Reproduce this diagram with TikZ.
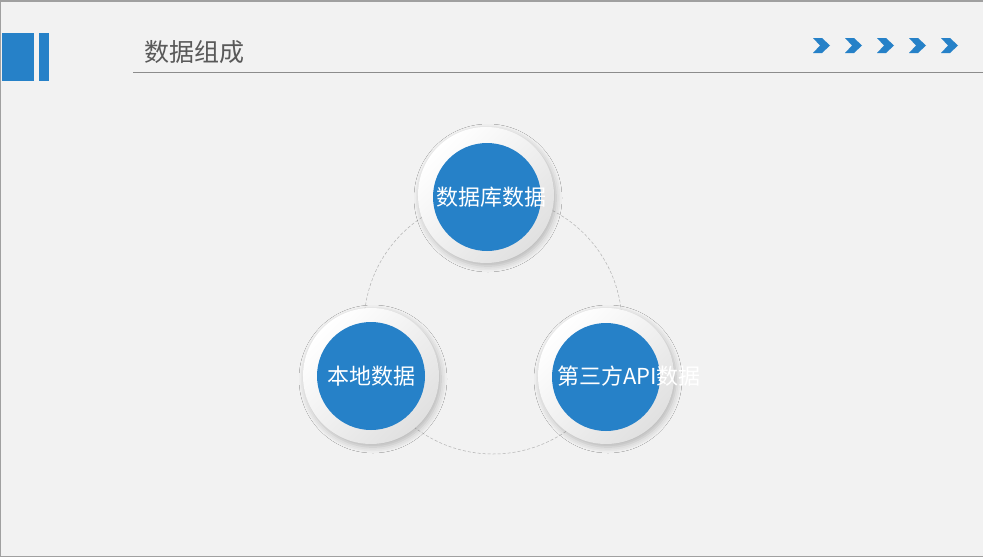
\documentclass[tikz,border=0pt]{standalone}
\usepackage{fontspec}
\newfontfamily\cjk{Noto Sans CJK SC}
\usetikzlibrary{shadows.blur}
\definecolor{bg}{HTML}{F2F2F2}
\definecolor{blue1}{HTML}{2681C8}
\definecolor{frame}{HTML}{A0A0A0}
\definecolor{titlegray}{HTML}{595959}
\tikzset{
  plate/.style={circle, minimum size=136pt, inner sep=0pt, draw=none,
     top color=white!88!black, bottom color=white, shading angle=-135,
     blur shadow={shadow xshift=2pt, shadow yshift=-3pt, shadow blur radius=6pt, shadow opacity=25}},
  disc/.style={circle, minimum size=108pt, inner sep=0pt, fill=blue1},
  lbl/.style={font=\cjk\fontsize{22}{24}\selectfont, text=white},
  ring/.style={draw=black!30, dashed, dash pattern=on 3pt off 2pt, line width=0.5pt},
  chev/.style={fill=blue1, draw=none},
}
\begin{document}
\begin{tikzpicture}[x=1pt,y=-1pt]
\path[fill=bg] (0,0) rectangle (983,557);
\useasboundingbox (0,0) rectangle (983,557);
\draw[frame, line width=1.5pt] (0,557) -- (0,1) -- (983,1);
\draw[frame, line width=1pt] (0,556) -- (983,556);
% left bars
\fill[blue1] (2,33) rectangle (34,81);
\fill[blue1] (39,33) rectangle (49,81);
% title
\node[anchor=west, inner sep=0pt, font=\cjk\fontsize{25}{27}\selectfont, text=titlegray] (title) at (144,52) {数据组成};
\draw[black!45, line width=0.8pt] (133,72) -- (983,72);
% chevrons
\foreach \i in {0,...,4}{
  \fill[chev] ({813+32*\i},38) -- ({822+32*\i},38) -- ({830+32*\i},45.5) -- ({822+32*\i},53) -- ({813+32*\i},53) -- ({820+32*\i},45.5) -- cycle;
}
% dashed ring
\draw[ring] (493,325) circle (129);
% plates
\node[plate] (p1) at (486,195) {};
\node[plate] (p2) at (371,376) {};
\node[plate] (p3) at (606,376) {};
\node[disc] (d1) at (487,197) {};
\node[disc] (d2) at (371,376) {};
\node[disc] (d3) at (606,377) {};
\node[lbl] (t1) at (491,197) {数据库数据};
\node[lbl] (t2) at (d2) {本地数据};
\node[lbl, anchor=west, inner sep=0pt] (t3) at (557,376) {第三方API数据};
\end{tikzpicture}
\end{document}
